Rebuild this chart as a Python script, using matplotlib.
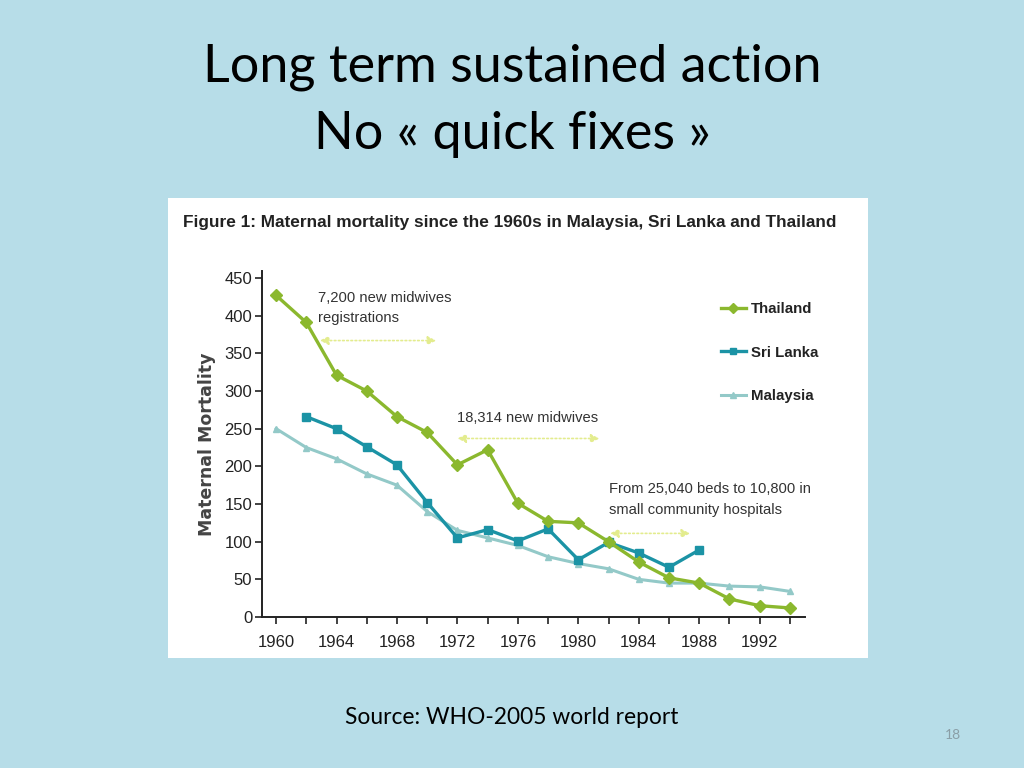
import matplotlib
matplotlib.use("Agg")
import matplotlib.pyplot as plt
from matplotlib.lines import Line2D
from matplotlib.patches import Rectangle

# data
years = [1960, 1962, 1964, 1966, 1968, 1970, 1972, 1974, 1976, 1978,
         1980, 1982, 1984, 1986, 1988, 1990, 1992, 1994]
thailand = [427, 391, 321, 300, 266, 245, 202, 222, 151, 127,
            125, 100, 73, 52, 45, 24, 15, 12]
sri_lanka_years = [1962, 1964, 1966, 1968, 1970, 1972, 1974, 1976,
                   1978, 1980, 1982, 1984, 1986, 1988]
sri_lanka = [266, 250, 226, 202, 152, 105, 116, 101, 117, 76, 99, 85, 66, 89]
malaysia = [250, 225, 210, 190, 175, 140, 115, 105, 95, 80,
            71, 64, 50, 45, 45, 41, 40, 34]
x_labels = [1960, 1964, 1968, 1972, 1976, 1980, 1984, 1988, 1992]
y_ticks = [0, 50, 100, 150, 200, 250, 300, 350, 400, 450]

slide_bg = "#b7dde8"
c_thai = "#8bb82e"
c_sri = "#1b93a5"
c_mal = "#93c9c8"
c_note = "#e3ec8e"

narrow = ["Liberation Sans Narrow", "Liberation Sans", "DejaVu Sans"]
slide_font = ["Lato", "DejaVu Sans"]

fig = plt.figure(figsize=(10.24, 7.68), dpi=100)
fig.patch.set_facecolor(slide_bg)

# white picture area of the pasted figure
fig.patches.append(Rectangle((168 / 1024, 1 - 658 / 768), 700 / 1024, 460 / 768,
                             transform=fig.transFigure, facecolor="white",
                             edgecolor="none", zorder=-10))

fig.text(0.5, 1 - 67 / 768, "Long term sustained action", ha="center", va="center",
         fontsize=37.5, family=slide_font, color="black")
fig.text(0.5, 1 - 135 / 768, "No « quick fixes »", ha="center", va="center",
         fontsize=37.5, family=slide_font, color="black")

fig.text(183 / 1024, 1 - 222 / 768,
         "Figure 1: Maternal mortality since the 1960s in Malaysia, Sri Lanka and Thailand",
         ha="left", va="center", fontsize=12.4, fontweight="bold", family=narrow,
         color="#222222")

ax = fig.add_axes([262 / 1024, 1 - 617 / 768, 543 / 1024, 346.5 / 768])
ax.patch.set_alpha(0)

ax.plot(years, malaysia, color=c_mal, lw=2.2, marker="^", ms=5, zorder=2)
ax.plot(sri_lanka_years, sri_lanka, color=c_sri, lw=2.4, marker="s", ms=5.5, zorder=3)
ax.plot(years, thailand, color=c_thai, lw=2.4, marker="D", ms=6, zorder=4)

ax.set_xlim(1959.07, 1995.0)
ax.set_ylim(0, 460)
ax.set_xticks(range(1960, 1995, 2), minor=True)
ax.set_xticks(x_labels)
ax.set_xticklabels([str(v) for v in x_labels], family=narrow, fontsize=12)
ax.set_yticks(y_ticks)
ax.set_yticklabels([str(v) for v in y_ticks], family=narrow, fontsize=12)
ax.tick_params(axis="x", which="both", direction="out", length=5, width=1.2,
               color="#222222", pad=8, labelcolor="#222222")
ax.tick_params(axis="y", direction="out", length=5, width=1.2, color="#222222",
               labelcolor="#222222", pad=2)
for s in ["top", "right"]:
    ax.spines[s].set_visible(False)
for s in ["left", "bottom"]:
    ax.spines[s].set_color("#222222")
    ax.spines[s].set_linewidth(1.4)
ax.set_ylabel("Maternal Mortality", fontsize=12.5, fontweight="bold",
              color="#444444", labelpad=6, family=["DejaVu Sans"])

# annotations: text position, arrow start, arrow end, arrow height
notes = [
    ("7,200 new midwives\nregistrations", 1962.8, 410, 1962.9, 1970.6, 367),
    ("18,314 new midwives", 1972.0, 264, 1972.0, 1981.4, 237),
    ("From 25,040 beds to 10,800 in\nsmall community hospitals", 1982.0, 156, 1982.1, 1987.4, 111),
]
for label, tx, ty, x0, x1, ay in notes:
    ax.text(tx, ty, label, ha="left", va="center", fontsize=10.6, family=narrow,
            color="#333333", linespacing=1.55)
    ax.annotate("", xy=(x1, ay), xytext=(x0, ay),
                arrowprops=dict(arrowstyle="<|-|>,head_length=0.5,head_width=0.25",
                                color=c_note, lw=1.2, linestyle=(0, (1, 1.5)),
                                shrinkA=0, shrinkB=0))

handles = [
    Line2D([0], [0], color=c_thai, lw=2.4, marker="D", ms=5, label="Thailand"),
    Line2D([0], [0], color=c_sri, lw=2.4, marker="s", ms=4.5, label="Sri Lanka"),
    Line2D([0], [0], color=c_mal, lw=2.2, marker="^", ms=4.5, label="Malaysia"),
]
leg = fig.legend(handles=handles, loc="upper left",
                 bbox_to_anchor=(707 / 1024, 1 - 289 / 768), frameon=False,
                 handlelength=1.7, labelspacing=1.95, handletextpad=0.35,
                 prop={"family": narrow, "size": 10.8, "weight": "bold"})
for t in leg.get_texts():
    t.set_color("#222222")

fig.text(0.5, 1 - 718 / 768, "Source: WHO-2005 world report", ha="center", va="center",
         fontsize=16.4, family=slide_font, color="black")
fig.text(953 / 1024, 1 - 735 / 768, "18", ha="center", va="center",
         fontsize=10, family=slide_font, color="#8a9ea6")

fig.savefig("out.png", dpi=100, facecolor=fig.get_facecolor())
